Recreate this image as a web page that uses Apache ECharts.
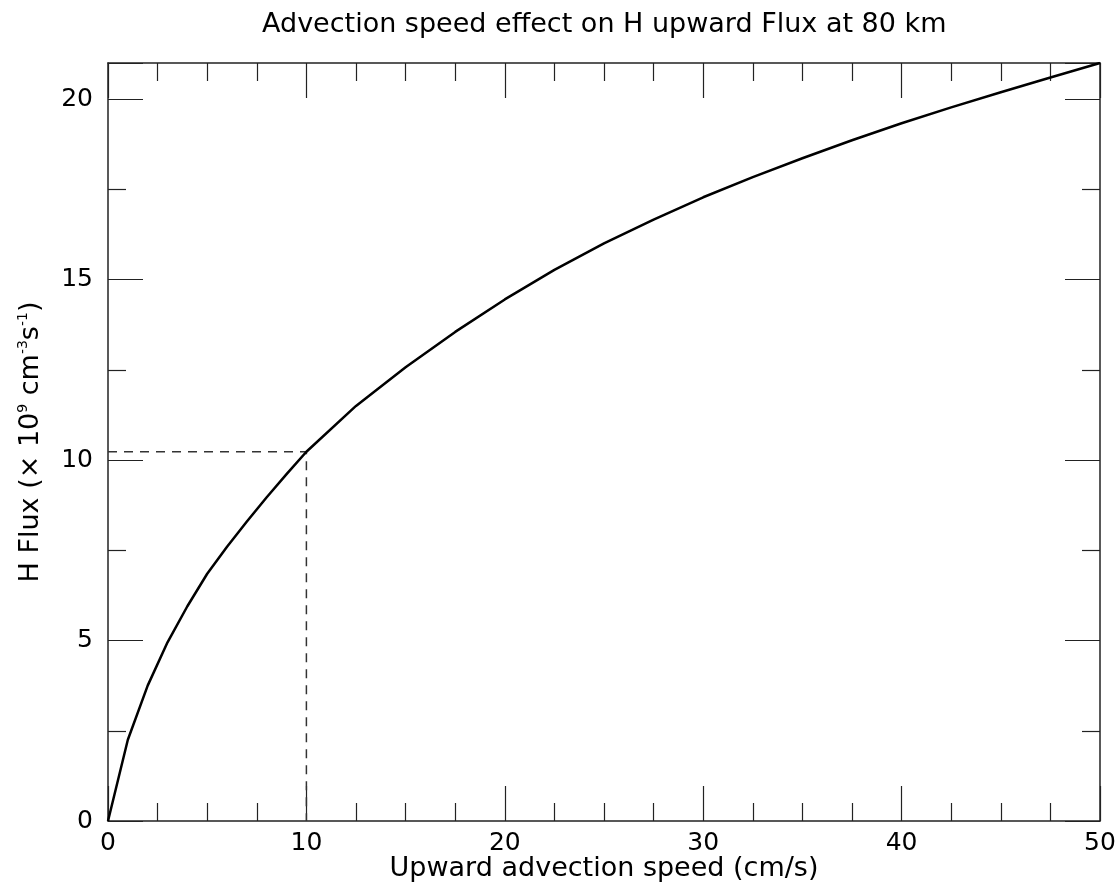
<!DOCTYPE html>
<html>
<head>
<meta charset="utf-8">
<script src="https://cdn.jsdelivr.net/npm/echarts@6/dist/echarts.min.js"></script>
<style>
html,body{margin:0;padding:0;background:#fff;}
#chart{width:1120px;height:884px;}
</style>
</head>
<body>
<div id="chart"></div>
<script>
var speeds = [0, 1, 2, 3, 4, 5, 6, 7, 8, 9, 10, 12.5, 15, 17.5, 20, 22.5, 25, 27.5, 30, 32.5, 35, 37.5, 40, 42.5, 45, 47.5, 50];
var fluxes = [0, 2.25, 3.75, 4.95, 5.95, 6.85, 7.6, 8.3, 8.97, 9.61, 10.23, 11.5, 12.57, 13.55, 14.45, 15.27, 16.0, 16.66, 17.28, 17.84, 18.36, 18.86, 19.33, 19.77, 20.19, 20.6, 21.0];
var refSpeed = 10;
var refFlux = 10.23;
var titleText = 'Advection speed effect on H upward Flux at 80 km';
var xName = 'Upward advection speed (cm/s)';
var yName = 'H Flux (\u00d7 10{s|9} cm{s|-3}s{s|-1})';

var curve = speeds.map(function (v, i) { return [v, fluxes[i]]; });
var refLine = [[0, refFlux], [refSpeed, refFlux], [refSpeed, 0]];

var font = 'DejaVu Sans';
var axisCol = '#222';
function xAx(pos, show) {
  return {
    type: 'value', position: pos, min: 0, max: 50, interval: 10,
    name: show ? xName : '', nameLocation: 'middle', nameGap: 34, nameMoveOverlap: false,
    nameTextStyle: { fontFamily: font, fontSize: 27, color: '#000' },
    axisLine: { show: true, onZero: false, lineStyle: { color: axisCol, width: 1.5 } },
    axisTick: { show: true, inside: true, length: 35, lineStyle: { color: axisCol, width: 1.2 } },
    minorTick: { show: true, splitNumber: 4, length: 18, lineStyle: { color: axisCol, width: 1.2 } },
    axisLabel: { show: show, fontFamily: font, fontSize: 25, color: '#000', margin: 10 },
    splitLine: { show: false }
  };
}
function yAx(pos, show) {
  return {
    type: 'value', position: pos, min: 0, max: 21, interval: 5,
    name: show ? yName : '', nameLocation: 'middle', nameGap: 62, nameRotate: 90, nameMoveOverlap: false,
    nameTextStyle: {
      fontFamily: font, fontSize: 27, color: '#000', lineHeight: 30,
      rich: { s: { fontFamily: font, fontSize: 14, color: '#000', verticalAlign: 'top', lineHeight: 30, padding: [0, 0, 12, 0] } }
    },
    axisLine: { show: true, onZero: false, lineStyle: { color: axisCol, width: 1.5 } },
    axisTick: { show: true, inside: true, length: 35, lineStyle: { color: axisCol, width: 1.2 } },
    minorTick: { show: true, splitNumber: 2, length: 18, lineStyle: { color: axisCol, width: 1.2 } },
    axisLabel: { show: show, fontFamily: font, fontSize: 25, color: '#000', margin: 15,
      showMaxLabel: false },
    splitLine: { show: false }
  };
}

var chart = echarts.init(document.getElementById('chart'), null, { renderer: 'canvas' });
chart.setOption({
  backgroundColor: '#fff',
  animation: false,
  title: {
    text: titleText, left: 257, top: 6,
    textStyle: { fontFamily: font, fontSize: 27, fontWeight: 'normal', color: '#000' }
  },
  grid: { left: 108, right: 20, top: 63, bottom: 63, containLabel: false, outerBoundsMode: 'none' },
  xAxis: [xAx('bottom', true), xAx('top', false)],
  yAxis: [yAx('left', true), yAx('right', false)],
  series: [
    {
      type: 'line', data: refLine, xAxisIndex: 0, yAxisIndex: 0,
      symbol: 'none', silent: true,
      lineStyle: { color: '#333', width: 1.5, type: [9, 7] }
    },
    {
      type: 'line', data: curve, xAxisIndex: 0, yAxisIndex: 0,
      symbol: 'none', smooth: false, silent: true,
      lineStyle: { color: '#000', width: 2.5, join: 'round' }
    }
  ]
});
</script>
</body>
</html>
